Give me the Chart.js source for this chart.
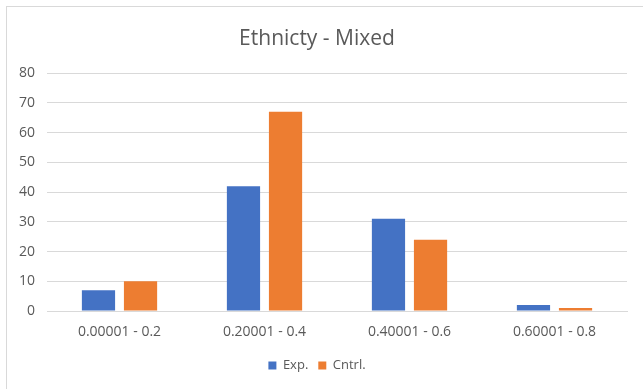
<!DOCTYPE html>
<html>
<head>
<meta charset="utf-8">
<script src="https://cdn.jsdelivr.net/npm/chart.js@4.4.1/dist/chart.umd.min.js"></script>
<style>
  html, body { margin: 0; padding: 0; background: #ffffff; overflow: hidden; }
  #frame {
    position: absolute; left: 6px; top: 6px; width: 660px; height: 400px;
    border: 1px solid #d9d9d9; box-sizing: border-box; background: #fff;
  }
  #wrap { position: absolute; left: 0; top: 0; width: 636px; height: 382px; }
</style>
</head>
<body>
<div id="frame"><div id="wrap"><canvas id="c"></canvas></div></div>
<script>
const categories = ["0.00001 - 0.2", "0.20001 - 0.4", "0.40001 - 0.6", "0.60001 - 0.8"];
const expValues = [7, 42, 31, 2];
const cntrlValues = [10, 67, 24, 1];
const yTicks = [0, 10, 20, 30, 40, 50, 60, 70, 80];

const fontFamily = "'Open Sans', 'Liberation Sans', sans-serif";
const textColor = '#595959';

new Chart(document.getElementById('c'), {
  type: 'bar',
  data: {
    labels: categories,
    datasets: [
      { label: 'Exp.', data: expValues, backgroundColor: '#4472c4' },
      { label: 'Cntrl.', data: cntrlValues, backgroundColor: '#ed7d31' }
    ]
  },
  options: {
    responsive: true,
    maintainAspectRatio: false,
    animation: false,
    layout: { padding: { left: 0, right: 16, top: 8, bottom: 7 } },
    datasets: { bar: { categoryPercentage: 0.58, barPercentage: 0.79 } },
    plugins: {
      title: {
        display: true,
        text: 'Ethnicty - Mixed',
        color: textColor,
        font: { family: fontFamily, size: 21, weight: 'normal' },
        padding: { top: 11, bottom: 22 }
      },
      legend: {
        position: 'bottom',
        labels: {
          color: textColor,
          font: { family: fontFamily, size: 13 },
          boxWidth: 8, boxHeight: 8, padding: 10
        }
      },
      tooltip: { enabled: false }
    },
    scales: {
      x: {
        grid: { display: false },
        border: { color: '#d9d9d9' },
        ticks: { color: textColor, font: { family: fontFamily, size: 14 }, padding: 5 },
        afterFit: (axis) => { axis.height = 38; }
      },
      y: {
        min: 0, max: 80,
        afterBuildTicks: (axis) => { axis.ticks = yTicks.map(v => ({ value: v })); },
        grid: { color: '#d9d9d9', drawTicks: false },
        border: { display: false },
        ticks: { color: textColor, font: { family: fontFamily, size: 14 }, padding: 12 }
      }
    }
  }
});
</script>
</body>
</html>
